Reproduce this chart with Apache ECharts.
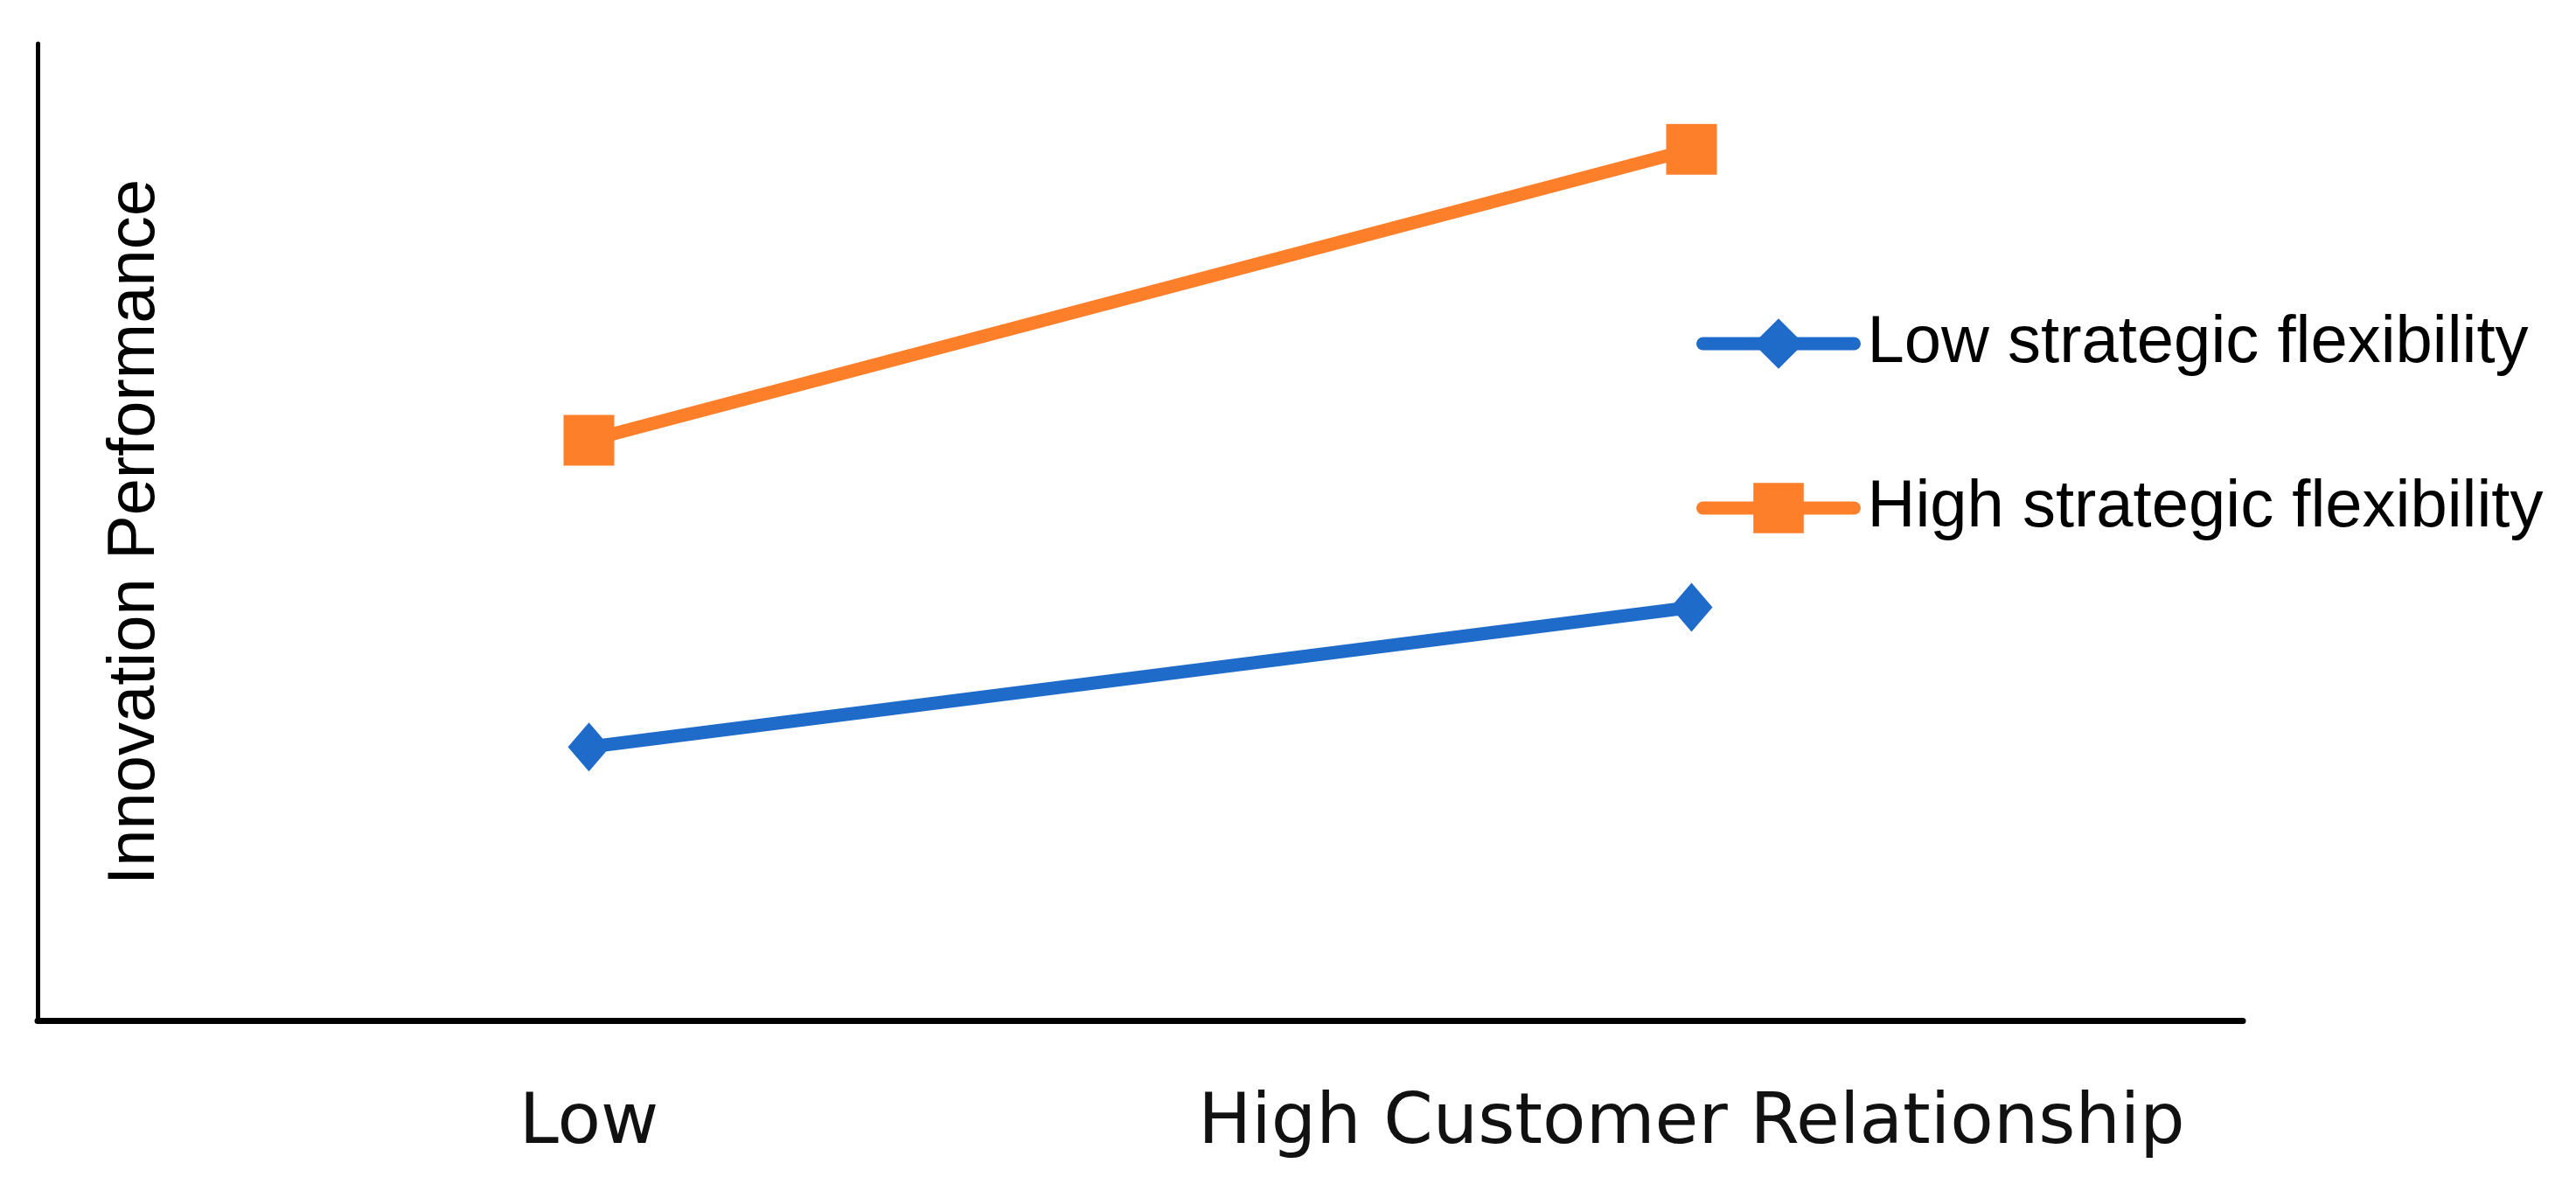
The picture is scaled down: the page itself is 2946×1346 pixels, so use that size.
<!DOCTYPE html>
<html>
<head>
<meta charset="utf-8">
<title>Innovation Performance</title>
<script src="https://cdn.jsdelivr.net/npm/echarts@6/dist/echarts.min.js"></script>
<style>
  html, body { margin: 0; padding: 0; background: #fff; }
  #myChart { width: 2946px; height: 1346px; }
</style>
</head>
<body>
<div id="myChart"></div>
<script>
// categories on the x axis
var categories = ['Low', 'High Customer Relationship']
// series names
var seriesNames = ['Low strategic flexibility', 'High strategic flexibility']
// values (y axis 0 - 100, no ticks shown)
var lowFlex = [28.0, 42.3]
var highFlex = [59.4, 89.2]

var myChart = echarts.init(document.getElementById('myChart'))
myChart.setOption({
  animation: false,
  grid: {
    left: 43,
    right: 381,
    top: 50,
    bottom: 179,
    containLabel: false
  },
  legend: {
    orient: 'vertical',
    left: 1940,
    top: 355,
    padding: 0,
    itemWidth: 173,
    itemHeight: 72,
    itemGap: 112,
    data: seriesNames,
    lineStyle: { width: 15, cap: 'round' },
    textStyle: {
      fontFamily: 'Liberation Sans',
      fontSize: 76,
      color: '#000',
      padding: [0, 0, 0, 10]
    }
  },
  xAxis: {
    type: 'category',
    boundaryGap: true,
    data: categories,
    axisLine: { show: true, lineStyle: { color: '#000', width: 7 } },
    axisTick: { show: false },
    axisLabel: {
      interval: 0,
      margin: 78,
      fontFamily: 'DejaVu Sans',
      fontSize: 81,
      color: '#111'
    },
    splitLine: { show: false }
  },
  yAxis: {
    type: 'value',
    min: 0,
    max: 100,
    name: 'Innovation Performance',
    nameLocation: 'middle',
    nameGap: -150,
    nameTextStyle: {
      fontFamily: 'Liberation Sans',
      fontSize: 76,
      color: '#000'
    },
    axisLine: { show: true, lineStyle: { color: '#000', width: 5 } },
    axisTick: { show: false },
    axisLabel: { show: false },
    splitLine: { show: false }
  },
  series: [
    {
      name: seriesNames[0],
      type: 'line',
      data: lowFlex,
      symbol: 'diamond',
      symbolSize: [48, 56],
      color: '#1f6bc9',
      lineStyle: { width: 15, color: '#1f6bc9', cap: 'round' },
      itemStyle: { color: '#1f6bc9' }
    },
    {
      name: seriesNames[1],
      type: 'line',
      data: highFlex,
      symbol: 'rect',
      symbolSize: 58,
      color: '#fe7f2a',
      lineStyle: { width: 15, color: '#fe7f2a', cap: 'round' },
      itemStyle: { color: '#fe7f2a' }
    }
  ]
})
</script>
</body>
</html>
